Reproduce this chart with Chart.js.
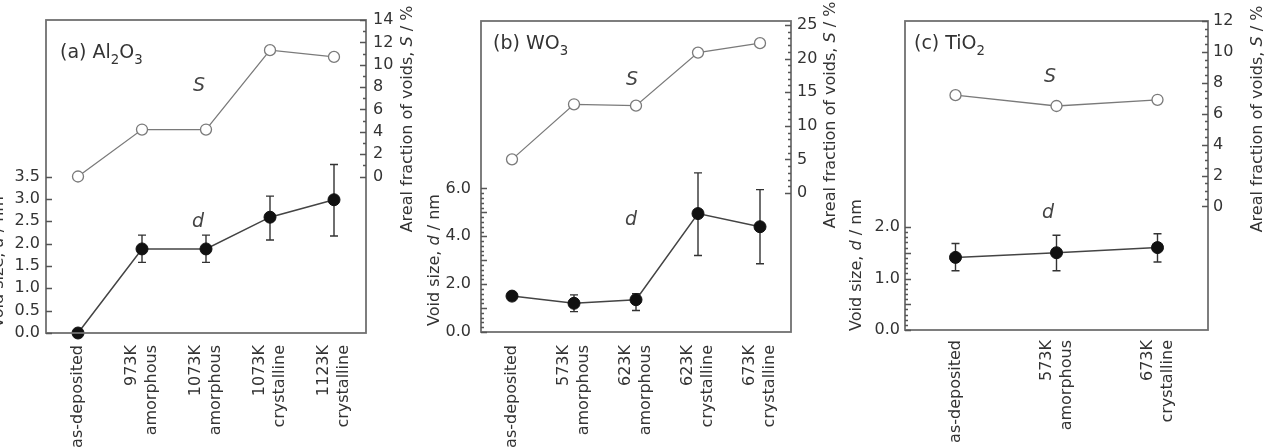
<!DOCTYPE html>
<html>
<head>
<meta charset="utf-8">
<script src="https://cdn.jsdelivr.net/npm/chart.js@4.4.1/dist/chart.umd.min.js"></script>
<style>
  html, body { margin: 0; padding: 0; background: #fff; }
  #wrap { position: relative; width: 1267px; height: 447px; overflow: hidden; }
  canvas { position: absolute; top: 0; }
</style>
</head>
<body>
<div id="wrap">
  <canvas id="chartA" width="420" height="447" style="left:0px"></canvas>
  <canvas id="chartB" width="420" height="447" style="left:420px"></canvas>
  <canvas id="chartC" width="427" height="447" style="left:840px"></canvas>
</div>
<script>
// ---- values ----
// (a) Al2O3
const catsA = [['as-deposited'], ['973K', 'amorphous'], ['1073K', 'amorphous'], ['1073K', 'crystalline'], ['1123K', 'crystalline']];
const sA = [0, 4.2, 4.2, 11.3, 10.7];
const dA = [0, 1.88, 1.88, 2.59, 2.98];
const dLoA = [null, 1.58, 1.58, 2.08, 2.17];
const dHiA = [null, 2.19, 2.19, 3.06, 3.77];
const leftTicksA = [0, 0.5, 1, 1.5, 2, 2.5, 3, 3.5];
const rightTicksA = [0, 2, 4, 6, 8, 10, 12, 14];

// (b) WO3
const catsB = [['as-deposited'], ['573K', 'amorphous'], ['623K', 'amorphous'], ['623K', 'crystalline'], ['673K', 'crystalline']];
const sB = [5.0, 13.2, 13.0, 20.9, 22.3];
const dB = [1.5, 1.2, 1.35, 4.95, 4.4];
const dLoB = [null, 0.85, 0.9, 3.2, 2.85];
const dHiB = [null, 1.55, 1.6, 6.65, 5.95];
const leftTicksB = [0, 2, 4, 6];
const rightTicksB = [0, 5, 10, 15, 20, 25];

// (c) TiO2
const catsC = [['as-deposited'], ['573K', 'amorphous'], ['673K', 'crystalline']];
const sC = [7.2, 6.5, 6.9];
const dC = [1.41, 1.5, 1.6];
const dLoC = [1.15, 1.15, 1.32];
const dHiC = [1.68, 1.84, 1.87];
const leftTicksC = [0, 1, 2];
const rightTicksC = [0, 2, 4, 6, 8, 10, 12];

const FONT = "'DejaVu Sans', sans-serif";
const INK = '#333';

function textWidth(ctx, parts, size) {
  let w = 0;
  parts.forEach(p => {
    ctx.font = (p.it ? 'italic ' : '') + (p.sub ? size * 0.7 : size) + 'px ' + FONT;
    w += ctx.measureText(p.t).width;
  });
  return w;
}

function drawParts(ctx, parts, size) {
  let x = 0;
  parts.forEach(p => {
    ctx.font = (p.it ? 'italic ' : '') + (p.sub ? size * 0.7 : size) + 'px ' + FONT;
    ctx.fillText(p.t, x, p.sub ? size * 0.3 : 0);
    x += ctx.measureText(p.t).width;
  });
}

function rotatedTitle(ctx, parts, cx, cy, size) {
  ctx.save();
  ctx.translate(cx, cy);
  ctx.rotate(-Math.PI / 2);
  ctx.translate(-textWidth(ctx, parts, size) / 2, 0);
  ctx.textBaseline = 'middle';
  ctx.textAlign = 'left';
  drawParts(ctx, parts, size);
  ctx.restore();
}

// inward tick marks, long on major values, short on minor ones
function tickMarks(ctx, scale, spec, edge, dir) {
  const n = Math.round((spec.hi - spec.lo) / spec.minor);
  for (let k = 0; k <= n; k++) {
    const v = spec.lo + k * spec.minor;
    const r = v / spec.major;
    const len = Math.abs(r - Math.round(r)) < 1e-6 ? 6 : 3;
    const y = Math.round(scale.getPixelForValue(v)) + 0.5;
    ctx.moveTo(edge, y);
    ctx.lineTo(edge + dir * len, y);
  }
}

const panelPlugin = {
  id: 'panel',
  beforeDatasetsDraw(chart, args, opt) {
    // error bars on d
    const ctx = chart.ctx, x = chart.scales.x, y = chart.scales.yL;
    ctx.save();
    ctx.strokeStyle = '#333';
    ctx.lineWidth = 1.4;
    ctx.beginPath();
    opt.lo.forEach((lo, i) => {
      if (lo === null) return;
      const px = x.getPixelForValue(i);
      const y1 = y.getPixelForValue(lo), y2 = y.getPixelForValue(opt.hi[i]);
      ctx.moveTo(px, y1); ctx.lineTo(px, y2);
      ctx.moveTo(px - 4, y1); ctx.lineTo(px + 4, y1);
      ctx.moveTo(px - 4, y2); ctx.lineTo(px + 4, y2);
    });
    ctx.stroke();
    ctx.restore();
  },
  afterDraw(chart, args, opt) {
    const ctx = chart.ctx, a = chart.chartArea;
    ctx.save();
    // frame
    ctx.strokeStyle = '#707070';
    ctx.lineWidth = 1.8;
    ctx.strokeRect(a.left, a.top, a.right - a.left, a.bottom - a.top);
    ctx.strokeStyle = '#555';
    ctx.lineWidth = 1.3;
    ctx.beginPath();
    tickMarks(ctx, chart.scales.yL, opt.tL, a.left, 1);
    tickMarks(ctx, chart.scales.yR, opt.tR, a.right, -1);
    ctx.stroke();

    ctx.fillStyle = INK;
    // category labels, rotated, lines centred on the category
    const xs = chart.scales.x;
    ctx.font = '16px ' + FONT;
    ctx.textAlign = 'right';
    ctx.textBaseline = 'middle';
    chart.data.labels.forEach((lines, i) => {
      const px = xs.getPixelForValue(i);
      lines.forEach((ln, j) => {
        ctx.save();
        ctx.translate(px + (j - (lines.length - 1) / 2) * 20, a.bottom + opt.catPad);
        ctx.rotate(-Math.PI / 2);
        ctx.fillText(ln, 0, 0);
        ctx.restore();
      });
    });

    // panel title
    ctx.save();
    ctx.translate(opt.titleAt[0], opt.titleAt[1]);
    ctx.textAlign = 'left';
    ctx.textBaseline = 'alphabetic';
    drawParts(ctx, opt.title, 19);
    ctx.restore();
    // axis titles
    rotatedTitle(ctx, [{t: 'Void size, '}, {t: 'd', it: true}, {t: ' / nm'}], opt.leftAt[0], opt.leftAt[1], 16);
    rotatedTitle(ctx, [{t: 'Areal fraction of voids, '}, {t: 'S', it: true}, {t: ' / %'}], opt.rightAt[0], opt.rightAt[1], 16);
    // series names
    ctx.font = 'italic 19px ' + FONT;
    ctx.textAlign = 'center';
    ctx.textBaseline = 'middle';
    ctx.fillStyle = '#444';
    ctx.fillText('S', opt.sAt[0], opt.sAt[1]);
    ctx.fillText('d', opt.dAt[0], opt.dAt[1]);
    ctx.restore();
  }
};

function buildPanel(id, cats, sVals, dVals, lo, hi, leftTicks, rightTicks, opt) {
  return new Chart(document.getElementById(id), {
    type: 'line',
    data: {
      labels: cats,
      datasets: [
        {
          label: 'S', data: sVals, yAxisID: 'yR', clip: false,
          borderColor: '#7a7a7a', borderWidth: 1.3,
          pointRadius: 5.5, pointBackgroundColor: '#fff',
          pointBorderColor: '#7a7a7a', pointBorderWidth: 1.3
        },
        {
          label: 'd', data: dVals, yAxisID: 'yL', clip: false,
          borderColor: '#444', borderWidth: 1.5,
          pointRadius: 6, pointBackgroundColor: '#111',
          pointBorderColor: '#111', pointBorderWidth: 1
        }
      ]
    },
    options: {
      responsive: false,
      animation: false,
      layout: { padding: { top: opt.top, left: 0, right: 0, bottom: 0 } },
      plugins: {
        legend: { display: false },
        tooltip: { enabled: false },
        panel: Object.assign({ lo: lo, hi: hi }, opt)
      },
      scales: {
        x: {
          type: 'category',
          offset: true,
          grid: { display: false, drawTicks: false },
          border: { display: false },
          ticks: { display: false },
          afterFit: s => { s.height = opt.xH; s.paddingLeft = 0; s.paddingRight = 0; }
        },
        yL: {
          position: 'left', min: 0, max: opt.lMax,
          grid: { display: false, drawTicks: false },
          border: { display: false },
          ticks: {
            padding: opt.padL, color: INK,
            font: { family: FONT, size: 16 },
            callback: v => v.toFixed(1)
          },
          afterBuildTicks: s => { s.ticks = leftTicks.map(v => ({ value: v })); },
          afterFit: s => { s.width = opt.lW; s.paddingTop = 0; s.paddingBottom = 0; }
        },
        yR: {
          position: 'right', min: opt.rMin, max: opt.rMax,
          grid: { display: false, drawTicks: false },
          border: { display: false },
          ticks: {
            padding: opt.padR, color: INK,
            font: { family: FONT, size: 16 },
            callback: v => String(Math.round(v))
          },
          afterBuildTicks: s => { s.ticks = rightTicks.map(v => ({ value: v })); },
          afterFit: s => { s.width = opt.rW; s.paddingTop = 0; s.paddingBottom = 0; }
        }
      }
    },
    plugins: [panelPlugin]
  });
}

buildPanel('chartA', catsA, sA, dA, dLoA, dHiA, leftTicksA, rightTicksA, {
  top: 20, lW: 46, rW: 54, xH: 114, lMax: 7, rMin: -14, rMax: 14, padL: 6, padR: 7, catPad: 12,
  tL: { lo: 0, hi: 3.5, major: 0.5, minor: 0.5 },
  tR: { lo: 0, hi: 14, major: 2, minor: 1 },
  title: [{t: '(a) Al'}, {t: '2', sub: true}, {t: 'O'}, {t: '3', sub: true}],
  titleAt: [60, 58], leftAt: [-1, 262], rightAt: [408, 119], sAt: [199, 86], dAt: [198, 222]
});

buildPanel('chartB', catsB, sB, dB, dLoB, dHiB, leftTicksB, rightTicksB, {
  top: 21, lW: 61, rW: 49, xH: 115, lMax: 13, rMin: -20.7, rMax: 25.6, padL: 10, padR: 6, catPad: 13,
  tL: { lo: 0, hi: 6, major: 1, minor: 0.2 },
  tR: { lo: 0, hi: 25, major: 5, minor: 1 },
  title: [{t: '(b) WO'}, {t: '3', sub: true}],
  titleAt: [73, 49], leftAt: [15, 260], rightAt: [411, 115], sAt: [212, 80], dAt: [211, 220]
});

buildPanel('chartC', catsC, sC, dC, dLoC, dHiC, leftTicksC, rightTicksC, {
  top: 21, lW: 65, rW: 59, xH: 117, lMax: 6, rMin: -8, rMax: 12, padL: 5, padR: 5, catPad: 10,
  tL: { lo: 0, hi: 2, major: 0.5, minor: 0.1 },
  tR: { lo: 0, hi: 12, major: 2, minor: 0.5 },
  title: [{t: '(c) TiO'}, {t: '2', sub: true}],
  titleAt: [74, 49], leftAt: [17, 265], rightAt: [418, 119], sAt: [210, 77], dAt: [208, 213]
});
</script>
</body>
</html>
